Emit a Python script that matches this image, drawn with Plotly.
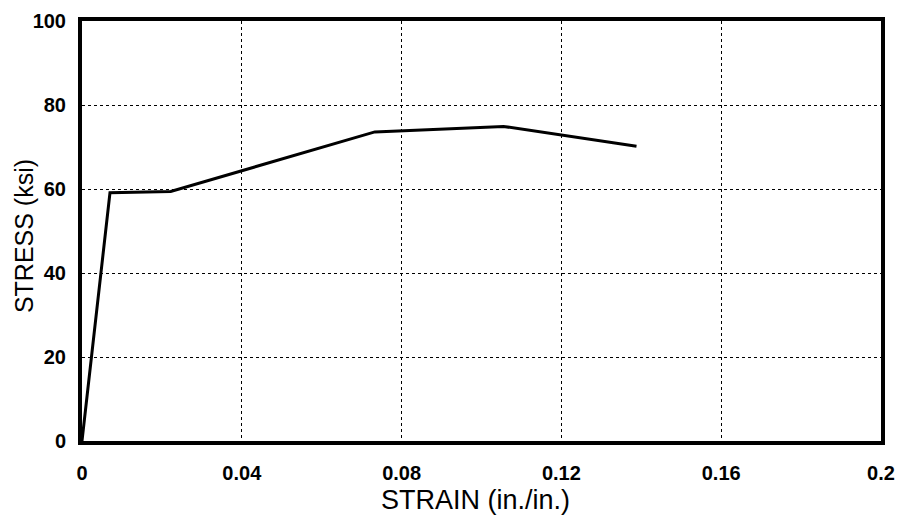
import plotly.graph_objects as go

strain = [0.0, 0.0070, 0.0222, 0.0733, 0.1055, 0.1388]
stress = [0.0, 59.1, 59.4, 73.6, 74.9, 70.2]

x_ticks = [0, 0.04, 0.08, 0.12, 0.16, 0.2]
x_labels = ["0", "0.04", "0.08", "0.12", "0.16", "0.2"]
y_ticks = [0, 20, 40, 60, 80, 100]
y_labels = ["0", "20", "40", "60", "80", "100"]
x_title = "STRAIN (in./in.)"
y_title = "STRESS (ksi)"

fig = go.Figure()
fig.add_trace(go.Scatter(x=strain, y=stress, mode="lines",
                         line=dict(color="black", width=3), cliponaxis=False,
                         showlegend=False, hoverinfo="skip"))

font = "Liberation Sans, Arial, sans-serif"
axis_common = dict(showline=True, linecolor="black", linewidth=4, mirror=True,
                   showgrid=True, gridcolor="black", gridwidth=1, griddash="dot",
                   zeroline=False, ticks="", automargin=False,
                   tickfont=dict(family=font, size=20, color="black", weight="bold"))

fig.update_xaxes(range=[0, 0.2], tickvals=x_ticks, ticktext=x_labels,
                 ticklabelstandoff=11, **axis_common)
fig.update_yaxes(range=[0, 100], tickvals=y_ticks, ticktext=y_labels,
                 ticklabelstandoff=8, **axis_common)

fig.add_annotation(text=x_title, xref="paper", yref="paper", x=0.4925, y=-0.1405,
                   xanchor="center", yanchor="middle", showarrow=False,
                   font=dict(family=font, size=27, color="black"))
fig.add_annotation(text=y_title, xref="paper", yref="paper", x=-0.0725, y=0.488,
                   xanchor="center", yanchor="middle", showarrow=False, textangle=-90,
                   font=dict(family=font, size=25, color="black"))

fig.update_layout(width=899, height=515, margin=dict(l=82, r=18, t=21, b=74),
                  paper_bgcolor="white", plot_bgcolor="white")
fig.write_html("out.html", config={"displayModeBar": False},
               post_script="document.body.style.margin='0';document.body.style.overflow='hidden';")
